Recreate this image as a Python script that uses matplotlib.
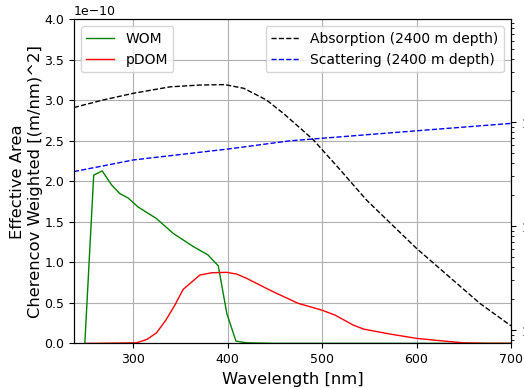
# -*- coding: utf-8 -*-
# %% Librerias
import numpy as np
import matplotlib
matplotlib.use('Agg')
import matplotlib.pyplot as plt

# %% Datos

# area efectiva pesada por Cherenkov [(m/nm)^2], escala 1e-10
wl_wom = [248.6, 258, 267, 277, 285.6, 294.5, 305, 324.6, 342, 363.4, 379, 390, 399, 408.7, 420, 450, 700]
wom = [0, 2.077, 2.13, 1.955, 1.85, 1.795, 1.684, 1.54, 1.36, 1.196, 1.093, 0.957, 0.37, 0.028, 0.007, 0, 0]

wl_pdom = [250, 257.4, 303.4, 314.6, 324.6, 334.5, 344, 352.8, 370.5, 383, 399, 409.4, 420, 434,
           448.2, 474.7, 499.6, 513.7, 533, 543.7, 572, 600, 621.5, 649.7, 678, 700]
pdom = [0, 0, 0.007, 0.05, 0.131, 0.288, 0.473, 0.667, 0.844, 0.872, 0.877, 0.856, 0.803, 0.72,
        0.637, 0.494, 0.411, 0.349, 0.226, 0.177, 0.115, 0.062, 0.037, 0.007, 0, 0]

# longitudes de absorcion y scattering [m] (eje derecho, log)
wl_abs = [237, 268, 300, 339, 371, 397, 417, 441, 459, 477, 491, 508, 520, 547, 561, 600, 667, 700]
absorcion = [138, 163, 189, 218, 227, 229, 211, 163, 121, 87, 67, 45, 34, 17.8, 13.4, 6.1, 1.81, 1.1]

wl_sca = [237, 300, 400, 466, 600, 700]
scattering = [33.4, 43.2, 55, 66, 82.4, 97]

# %% Grafico

fig = plt.figure(figsize=(5.24, 3.88), dpi=100)
ax = fig.add_axes([0.141, 0.115, 0.834, 0.835])

ax.plot(wl_wom, np.array(wom) * 1e-10, color='g', lw=1, label='WOM')
ax.plot(wl_pdom, np.array(pdom) * 1e-10, color='r', lw=1, label='pDOM')
ax.set_xlim(237, 700)
ax.set_ylim(0, 4e-10)
ax.set_xlabel('Wavelength [nm]', fontsize=11.8)
ax.set_ylabel('Effective Area\nCherencov Weighted [(m/nm)^2]', fontsize=11.8, labelpad=1)
ax.tick_params(labelsize=9)
ax.yaxis.get_offset_text().set_fontsize(9)
ax.grid(True)
ax.legend(loc='upper left', fontsize=10)

ax2 = ax.twinx()
ax2.plot(wl_abs, absorcion, 'k--', lw=1, label='Absorption (2400 m depth)')
ax2.plot(wl_sca, scattering, 'b--', lw=1, label='Scattering (2400 m depth)')
ax2.set_yscale('log')
ax2.set_ylim(0.745, 970)
ax2.tick_params(labelsize=9)
ax2.legend(loc='upper right', fontsize=10)

fig.savefig('out.png', dpi=100)
